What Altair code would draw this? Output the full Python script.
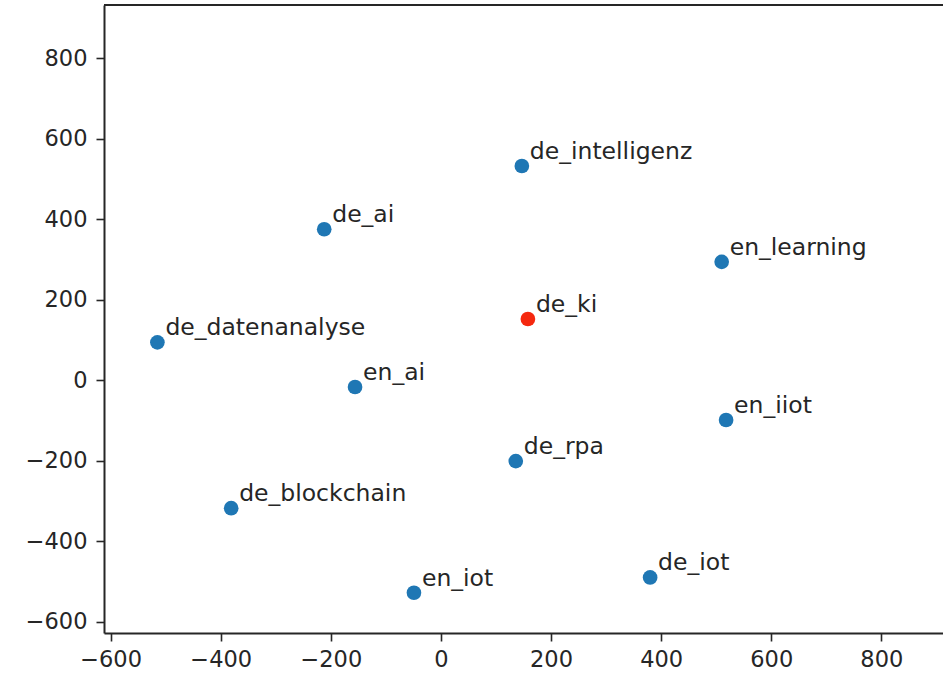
import altair as alt
import pandas as pd

# Word-embedding projection: 2-D coordinates for each term
terms = ["de_intelligenz", "de_ai", "en_learning", "de_ki", "de_datenanalyse",
         "en_ai", "en_iiot", "de_rpa", "de_blockchain", "de_iot", "en_iot"]
xs = [147, -212, 510, 158, -515, -156, 518, 136, -381, 380, -49]
ys = [532, 375, 294, 152, 94, -17, -99, -201, -318, -490, -528]
groups = ["other", "other", "other", "query", "other",
          "other", "other", "other", "other", "other", "other"]

x_ticks = [-600, -400, -200, 0, 200, 400, 600, 800]
y_ticks = [-600, -400, -200, 0, 200, 400, 600, 800]

df = pd.DataFrame({"term": terms, "x": xs, "y": ys, "group": groups})

W, H = 839, 628
FONT = "DejaVu Sans"
INK = "#262626"

x_scale = alt.Scale(domain=[-612, 912], nice=False, zero=False)
y_scale = alt.Scale(domain=[-628, 932], nice=False, zero=False)

axis_common = dict(
    grid=False, domainColor=INK, domainWidth=2, tickColor=INK, tickWidth=1.6,
    tickSize=8, labelFont=FONT, labelFontSize=22.5, labelColor=INK,
    title=None, format="d",
)

base = alt.Chart(df)

points = base.mark_circle(size=215, opacity=1).encode(
    x=alt.X("x:Q", scale=x_scale,
            axis=alt.Axis(values=x_ticks, labelPadding=7, **axis_common)),
    y=alt.Y("y:Q", scale=y_scale,
            axis=alt.Axis(values=y_ticks, labelPadding=9, **axis_common)),
    color=alt.Color("group:N",
                    scale=alt.Scale(domain=["other", "query"],
                                    range=["#1f77b4", "#f5280f"]),
                    legend=None),
)

labels = base.mark_text(
    align="left", baseline="alphabetic", dx=8, dy=-7,
    font=FONT, fontSize=23.5, color=INK,
).encode(x=alt.X("x:Q", scale=x_scale), y=alt.Y("y:Q", scale=y_scale), text="term:N")

# top spine (no right spine, as the frame runs off the right edge)
top_spine = alt.Chart(df).mark_rule(color=INK, strokeWidth=2).encode(
    x=alt.value(0), x2=alt.value(W), y=alt.value(0)
)

chart = (
    alt.layer(top_spine, points, labels)
    .properties(
        width=W, height=H,
        autosize=alt.AutoSizeParams(type="none"),
        padding={"left": 104, "top": 5, "right": 0, "bottom": 40},
        background="white",
    )
    .configure_view(stroke=None)
)

chart.save("out.html", embed_options={"renderer": "svg", "actions": False})
